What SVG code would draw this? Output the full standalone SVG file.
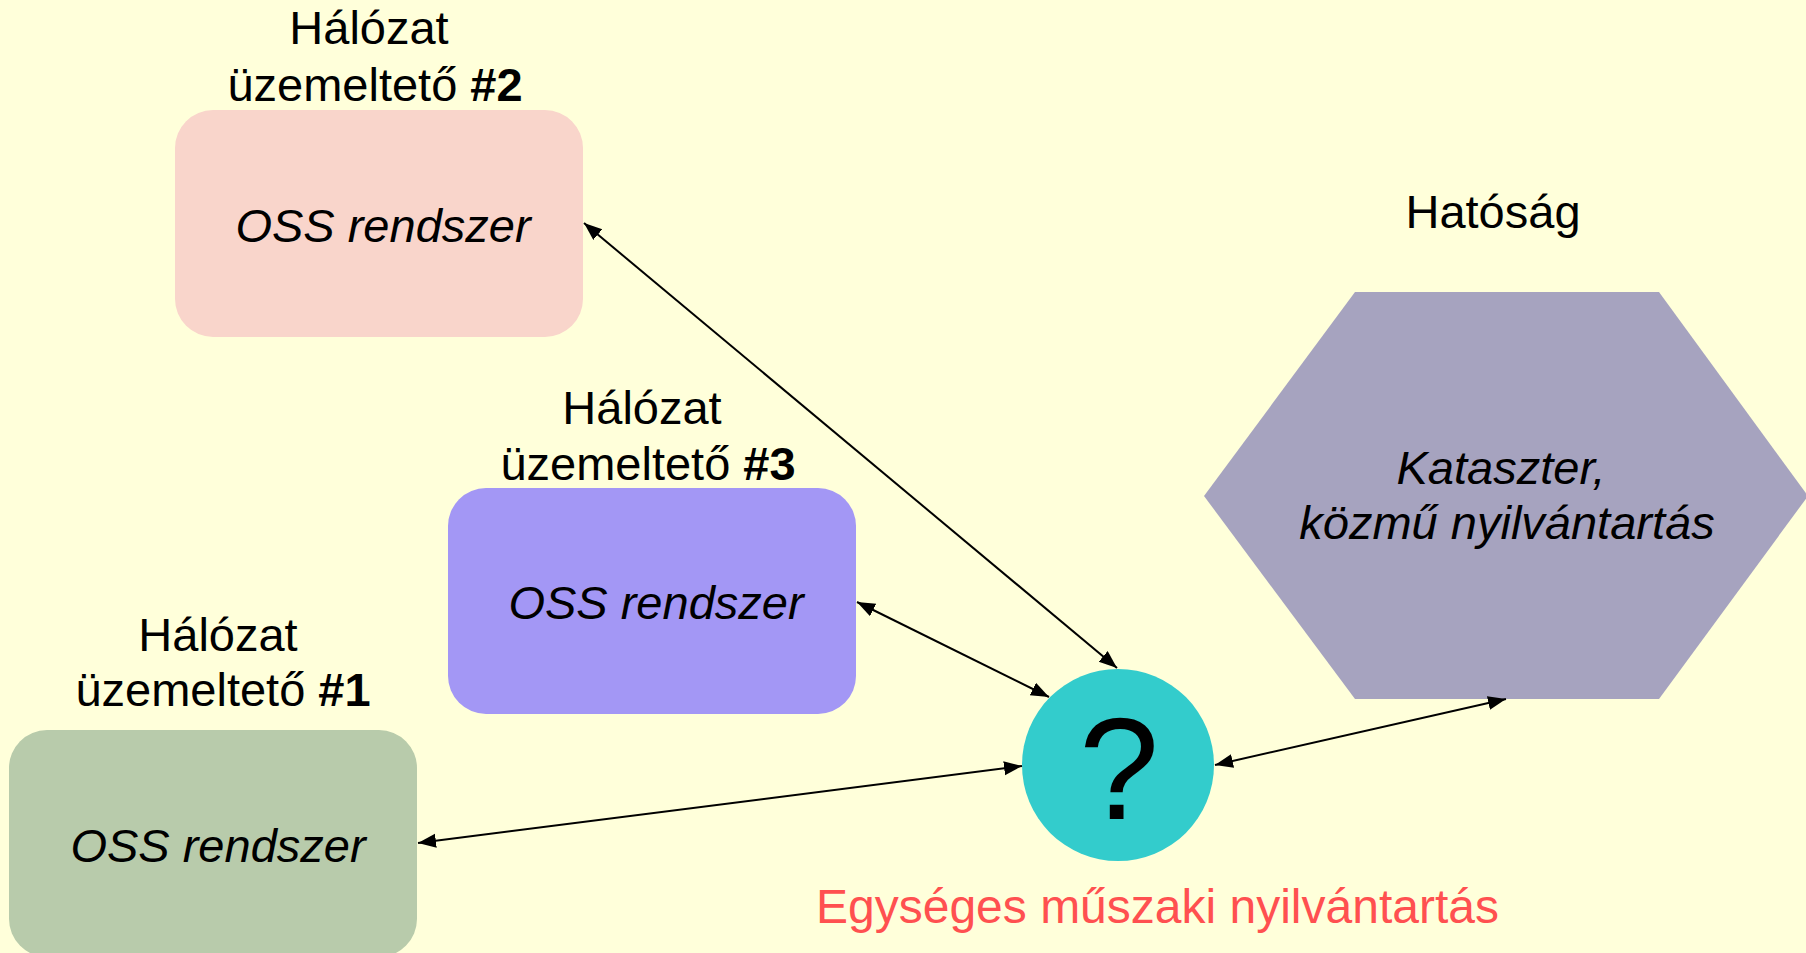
<svg xmlns="http://www.w3.org/2000/svg" width="1806" height="953" viewBox="0 0 1806 953">
  <defs>
    <marker id="ah" markerUnits="userSpaceOnUse" markerWidth="20" markerHeight="16" refX="18" refY="7" orient="auto-start-reverse" viewBox="0 0 20 16">
      <path d="M0,0 L18,7 L0,14 z" fill="#000"/>
    </marker>
    <style>
      .t { font-family: "Liberation Sans", Arial, sans-serif; font-size: 47px; fill: #000; }
      .c { text-anchor: middle; }
      .i { font-style: italic; }
      .b { font-weight: bold; }
      .conn { stroke: #000; stroke-width: 2; fill: none; marker-start: url(#ah); marker-end: url(#ah); }
    </style>
  </defs>
  <rect x="0" y="0" width="1806" height="953" fill="#FFFFDA"/>

  <g id="node-op2">
    <text class="t c" x="369" y="44">Hálózat</text>
    <text class="t c" x="375" y="101">üzemeltető <tspan class="b">#2</tspan></text>
    <rect x="175" y="110" width="408" height="227" rx="38" ry="38" fill="#F9D5CB"/>
    <text class="t c i" x="383" y="242">OSS rendszer</text>
  </g>

  <g id="node-op3">
    <text class="t c" x="642" y="424">Hálózat</text>
    <text class="t c" x="648" y="480">üzemeltető <tspan class="b">#3</tspan></text>
    <rect x="448" y="488" width="408" height="226" rx="38" ry="38" fill="#A397F5"/>
    <text class="t c i" x="656" y="619">OSS rendszer</text>
  </g>

  <g id="node-op1">
    <text class="t c" x="218" y="651">Hálózat</text>
    <text class="t c" x="223" y="706">üzemeltető <tspan class="b">#1</tspan></text>
    <rect x="9" y="730" width="408" height="227" rx="38" ry="38" fill="#B8CBAB"/>
    <text class="t c i" x="218" y="862">OSS rendszer</text>
  </g>

  <g id="node-authority">
    <text class="t c" x="1493" y="228">Hatóság</text>
    <polygon points="1355,292 1659,292 1808,496 1659,699 1355,699 1204,496" fill="#A6A3BF"/>
    <text class="t c i" x="1501" y="484">Kataszter,</text>
    <text class="t c i" x="1507" y="539">közmű nyilvántartás</text>
  </g>

  <g id="node-central">
    <circle cx="1118" cy="765" r="96" fill="#33CCCC"/>
    <text class="t c" x="1119" y="819" style="font-size:144px">?</text>
    <text class="t" x="816" y="923" style="fill:#FF5050;font-size:48px">Egységes műszaki nyilvántartás</text>
  </g>

  <g id="connectors">
    <line class="conn" x1="584" y1="223" x2="1117" y2="668"/>
    <line class="conn" x1="857" y1="602" x2="1049" y2="697"/>
    <line class="conn" x1="418" y1="843" x2="1022" y2="766"/>
    <line class="conn" x1="1215" y1="765" x2="1506" y2="699"/>
  </g>
</svg>
